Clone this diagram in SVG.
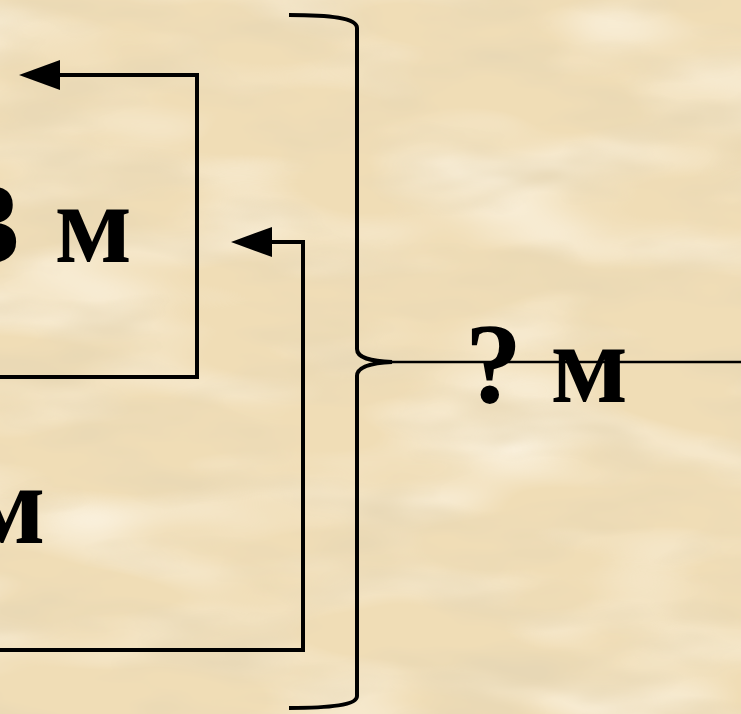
<svg xmlns="http://www.w3.org/2000/svg" width="741" height="714" viewBox="0 0 741 714">
<defs>
<filter id="paper" x="0" y="0" width="100%" height="100%">
<feTurbulence type="fractalNoise" baseFrequency="0.007 0.02" numOctaves="3" seed="7"/>
<feColorMatrix type="matrix" values="0 0 0 0 0.80  0 0 0 0 0.68  0 0 0 0 0.46  2.2 0 0 0 -0.95"/>
</filter>
<filter id="light" x="0" y="0" width="100%" height="100%">
<feTurbulence type="fractalNoise" baseFrequency="0.005 0.015" numOctaves="2" seed="21"/>
<feColorMatrix type="matrix" values="0 0 0 0 0.98  0 0 0 0 0.92  0 0 0 0 0.80  2.0 0 0 0 -0.9"/>
</filter>
<marker id="head" viewBox="0 -16 42 32" markerWidth="42" markerHeight="32" refX="1" refY="0" orient="auto" markerUnits="userSpaceOnUse">
<path d="M0,-15 L41,0 L0,15 z" fill="#000"/>
</marker>
</defs>
<style>
.ln{fill:none;stroke:#000;stroke-width:4;stroke-linejoin:miter}
.lbl{font-family:"Liberation Serif","Times New Roman",serif;font-weight:bold;font-size:114px;fill:#000}
</style>
<rect width="741" height="714" fill="#F0DDB6"/>
<rect width="741" height="714" filter="url(#light)"/>
<rect width="741" height="714" filter="url(#paper)"/>
<g id="connectors">
<path class="ln" d="M0,377 H197 V75 H59" marker-end="url(#head)"/>
<path class="ln" d="M0,650 H303 V242 H271" marker-end="url(#head)"/>
<path class="ln" d="M289,15 C330,15 357,18 357,28 V349 C357,358 370,361 392,362 C370,363 357,367 357,376 V696 C357,705 330,708 289,708"/>
<path fill="none" stroke="#000" stroke-width="2.5" d="M385,362 H741"/>
</g>
<g id="label-3m"><text class="lbl" x="-37" y="262" word-spacing="6">3 м</text></g>
<g id="label-m"><text class="lbl" x="-32" y="543">м</text></g>
<g id="label-total"><text class="lbl" x="465" y="402">? м</text></g>
</svg>
